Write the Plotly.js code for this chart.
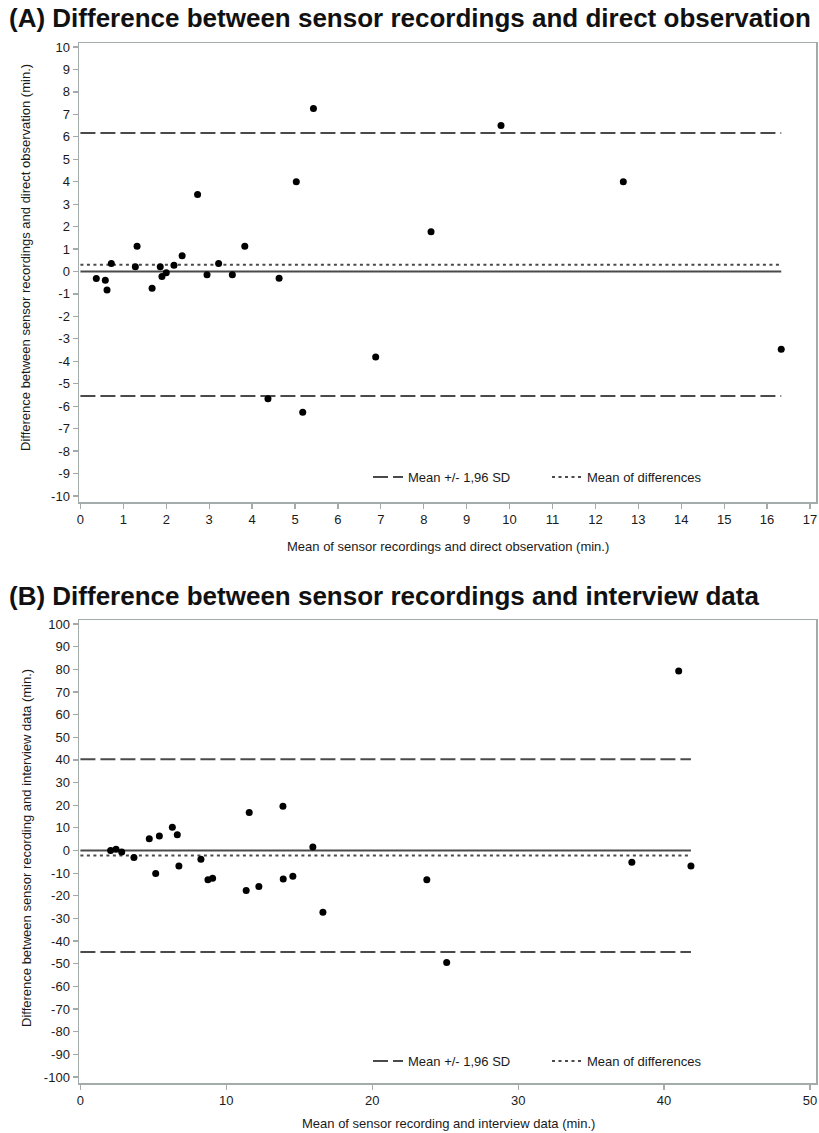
<!DOCTYPE html>
<html>
<head>
<meta charset="utf-8">
<script src="https://cdn.plot.ly/plotly-3.0.1.min.js"></script>
<style>
  html, body { margin: 0; padding: 0; background: #ffffff; }
  #chart { width: 819px; height: 1133px; }
</style>
</head>
<body>
<div id="chart"></div>
<script>
// Panel A: sensor recordings vs direct observation (minutes)
const aMeanX = [0.37, 0.58, 0.62, 0.72, 1.32, 1.28, 1.67, 1.86, 1.90, 2.00, 2.18, 2.37,
                2.73, 2.95, 3.22, 3.54, 3.83, 4.37, 4.63, 5.03, 5.18, 5.43, 6.88, 8.17,
                9.80, 12.65, 16.33];
const aDiff  = [-0.31, -0.39, -0.82, 0.36, 1.12, 0.21, -0.75, 0.21, -0.22, -0.06, 0.28, 0.70,
                3.43, -0.15, 0.36, -0.15, 1.12, -5.67, -0.30, 4.00, -6.27, 7.26, -3.81, 1.77,
                6.50, 4.00, -3.47];
const aBias  = 0.30;
const aUpper = 6.17;
const aLower = -5.55;

// Panel B: sensor recordings vs interview data (minutes)
const bMeanX = [2.07, 2.44, 2.83, 3.67, 4.72, 5.41, 5.16, 6.30, 6.64, 6.75, 8.26, 8.74,
                9.06, 11.36, 11.57, 12.23, 13.88, 13.90, 14.56, 15.93, 16.62, 23.74, 25.10,
                37.79, 41.00, 41.84];
const bDiff  = [0.0, 0.6, -0.7, -3.1, 5.2, 6.4, -10.1, 10.3, 7.0, -6.8, -3.9, -12.9,
                -12.3, -17.7, 16.8, -15.9, 19.5, -12.6, -11.4, 1.5, -27.3, -12.9, -49.5,
                -5.2, 79.3, -6.8];
const bBias  = -2.2;
const bUpper = 40.3;
const bLower = -44.8;

// Tick values and labels
const aXTicks = [0,1,2,3,4,5,6,7,8,9,10,11,12,13,14,15,16,17];
const aYTicks = [-10,-9,-8,-7,-6,-5,-4,-3,-2,-1,0,1,2,3,4,5,6,7,8,9,10];
const bXTicks = [0,10,20,30,40,50];
const bYTicks = [-100,-90,-80,-70,-60,-50,-40,-30,-20,-10,0,10,20,30,40,50,60,70,80,90,100];

const titleA  = '(A) Difference between sensor recordings and direct observation';
const titleB  = '(B) Difference between sensor recordings and interview data';
const xTitleA = 'Mean of sensor recordings and direct observation (min.)';
const yTitleA = 'Difference between sensor recordings and direct observation (min.)';
const xTitleB = 'Mean of sensor recording and interview data (min.)';
const yTitleB = 'Difference between sensor recording and interview data (min.)';
const legendSD   = 'Mean +/- 1,96 SD';
const legendBias = 'Mean of differences';

const W = 819, H = 1133;
const NARROW = 'Liberation Sans Narrow, Liberation Sans, Arial, sans-serif';
const SANS = 'Liberation Sans, Arial, sans-serif';
const px = v => v / W;
const py = v => 1 - v / H;

const frameColor = '#a3abab';
const lineColor = '#4a4a4a';

function hLine(xmax, y, dash, xa, ya, name, show, legend) {
  return {
    type: 'scatter', mode: 'lines', x: [0, xmax], y: [y, y],
    xaxis: xa, yaxis: ya, name: name, showlegend: show, legend: legend,
    line: { color: lineColor, width: dash === 'solid' ? 1.8 : 2, dash: dash },
    hoverinfo: 'skip'
  };
}

const aMax = Math.max(...aMeanX);
const bMax = Math.max(...bMeanX);
const longDash = '15px,5px';
const dotDash = '3px,3.5px';

const traces = [
  hLine(aMax, 0, 'solid', 'x', 'y', '', false, 'legend'),
  hLine(aMax, aUpper, longDash, 'x', 'y', legendSD, true, 'legend'),
  hLine(aMax, aLower, longDash, 'x', 'y', legendSD, false, 'legend'),
  hLine(aMax, aBias, dotDash, 'x', 'y', legendBias, true, 'legend'),
  { type: 'scatter', mode: 'markers', x: aMeanX, y: aDiff, xaxis: 'x', yaxis: 'y',
    showlegend: false, marker: { color: '#000000', size: 7 } },

  hLine(bMax, 0, 'solid', 'x2', 'y2', '', false, 'legend2'),
  hLine(bMax, bUpper, longDash, 'x2', 'y2', legendSD, true, 'legend2'),
  hLine(bMax, bLower, longDash, 'x2', 'y2', legendSD, false, 'legend2'),
  hLine(bMax, bBias, dotDash, 'x2', 'y2', legendBias, true, 'legend2'),
  { type: 'scatter', mode: 'markers', x: bMeanX, y: bDiff, xaxis: 'x2', yaxis: 'y2',
    showlegend: false, marker: { color: '#000000', size: 7 } }
];

const tickFont = { family: NARROW, size: 13, color: '#1a1a1a' };

function axis(extra) {
  return Object.assign({
    showline: true, mirror: true, linecolor: frameColor, linewidth: 1.5,
    ticks: 'outside', ticklen: 5, tickwidth: 1.2, tickcolor: frameColor,
    showgrid: false, zeroline: false, tickfont: tickFont, fixedrange: true
  }, extra);
}

const legendBase = {
  orientation: 'h', xanchor: 'left', yanchor: 'middle',
  font: { family: NARROW, size: 13, color: '#1a1a1a' },
  bgcolor: 'rgba(0,0,0,0)', borderwidth: 0,
  entrywidth: 134, entrywidthmode: 'pixels', tracegroupgap: 0, itemwidth: 30
};

const layout = {
  width: W, height: H,
  margin: { l: 0, r: 0, t: 0, b: 0 },
  paper_bgcolor: '#ffffff', plot_bgcolor: '#ffffff',
  showlegend: true,
  xaxis: axis({ domain: [px(79), px(816)], range: [-0.033, 17.14], anchor: 'y',
    tickmode: 'array', tickvals: aXTicks, ticktext: aXTicks.map(String) }),
  yaxis: axis({ domain: [py(502), py(43)], range: [-10.27, 10.18], anchor: 'x',
    tickmode: 'array', tickvals: aYTicks, ticktext: aYTicks.map(String) }),
  xaxis2: axis({ domain: [px(79), px(816)], range: [-0.096, 50.41], anchor: 'y2',
    tickmode: 'array', tickvals: bXTicks, ticktext: bXTicks.map(String) }),
  yaxis2: axis({ domain: [py(1083), py(620)], range: [-102.65, 101.77], anchor: 'x2',
    tickmode: 'array', tickvals: bYTicks, ticktext: bYTicks.map(String) }),
  legend: Object.assign({}, legendBase, { x: px(368), y: py(477) }),
  legend2: Object.assign({}, legendBase, { x: px(368), y: py(1061) }),
  annotations: [
    { text: titleA, xref: 'paper', yref: 'paper', x: px(7), y: py(18), xanchor: 'left', yanchor: 'middle',
      showarrow: false, font: { family: SANS, size: 26, color: '#111111', weight: 'bold' } },
    { text: titleB, xref: 'paper', yref: 'paper', x: px(7), y: py(596), xanchor: 'left', yanchor: 'middle',
      showarrow: false, font: { family: SANS, size: 26, color: '#111111', weight: 'bold' } },
    { text: xTitleA, xref: 'paper', yref: 'paper', x: px(448), y: py(547), xanchor: 'center', yanchor: 'middle',
      showarrow: false, font: { family: NARROW, size: 13, color: '#1a1a1a' } },
    { text: yTitleA, xref: 'paper', yref: 'paper', x: px(26), y: py(258), xanchor: 'center', yanchor: 'middle',
      textangle: -90, showarrow: false, font: { family: NARROW, size: 13, color: '#1a1a1a' } },
    { text: xTitleB, xref: 'paper', yref: 'paper', x: px(448), y: py(1123), xanchor: 'center', yanchor: 'middle',
      showarrow: false, font: { family: NARROW, size: 13, color: '#1a1a1a' } },
    { text: yTitleB, xref: 'paper', yref: 'paper', x: px(26), y: py(848), xanchor: 'center', yanchor: 'middle',
      textangle: -90, showarrow: false, font: { family: NARROW, size: 13, color: '#1a1a1a' } }
  ]
};

Plotly.newPlot('chart', traces, layout, { staticPlot: true, displayModeBar: false });
</script>
</body>
</html>
